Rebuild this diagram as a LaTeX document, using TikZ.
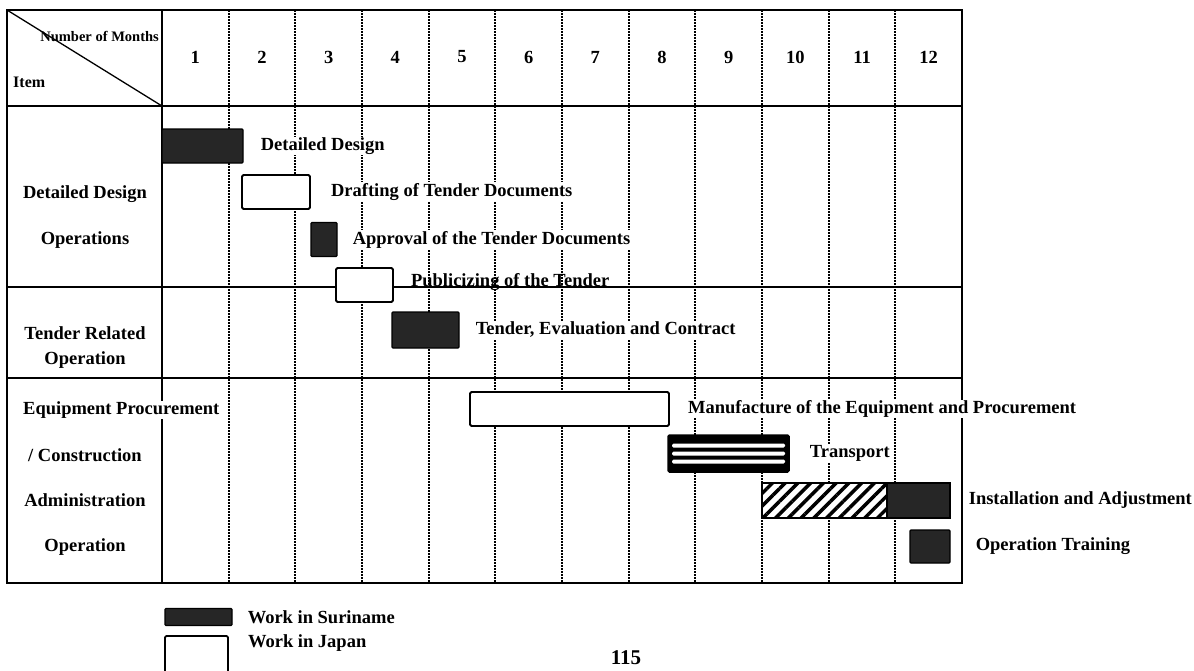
\documentclass[tikz,border=0pt]{standalone}
\usepackage{fontspec}
\setmainfont{Liberation Serif}
\usetikzlibrary{positioning,patterns.meta}

\begin{document}
\begin{tikzpicture}[x=1pt, y=-1pt,
    lbl/.style={font=\fontsize{18.5}{21}\selectfont\bfseries, inner sep=1pt, fill=white},
    itm/.style={font=\fontsize{18.5}{21}\selectfont\bfseries, inner sep=1pt},
    frame/.style={line width=2.4pt},
    rowline/.style={line width=1.3pt},
    monthline/.style={line width=2pt, dash pattern=on 1.5pt off 1.5pt},
    sbar/.style={rectangle, draw, line width=1.2pt, fill=black!85, rounded corners=1pt, minimum height=34pt, inner sep=0pt},
    jbar/.style={rectangle, draw, line width=1.8pt, fill=white, rounded corners=1.5pt, minimum height=34pt, inner sep=0pt},
    hbar/.style={rectangle, draw, line width=1.2pt, inner sep=0pt, minimum height=35pt, preaction={fill=white},
        pattern={Lines[angle=45, distance=9pt, line width=3.5pt]}},
    tbar/.style={rectangle, draw, line width=1.5pt, fill=black, rounded corners=1.5pt, minimum height=37pt, inner sep=0pt,
        path picture={
            \foreach \a/\b in {10/6, 2/-2, -6/-10}
                \fill[white] ([xshift=4pt, yshift=\a pt]path picture bounding box.west)
                    rectangle ([xshift=-4pt, yshift=\b pt]path picture bounding box.east);
        }}
]
\clip (0,0) rectangle (1194,670);

% month columns
\foreach \k in {1,...,11}
    \draw[monthline] ({162+66.667*\k},10) -- ({162+66.667*\k},583);

% table frame
\draw[frame] (7,10) rectangle (962,583);
\draw[frame] (162,10) -- (162,583);
\draw[rowline] (7,106) -- (962,106);
\draw[rowline] (7,287) -- (962,287);
\draw[rowline] (7,378) -- (962,378);
\draw[rowline] (7,10) -- (162,106);

% header
\node[font=\fontsize{14.5}{16}\selectfont\bfseries, inner sep=1pt, anchor=east] (months) at (160,36) {Number of Months};
\node[font=\fontsize{16}{18}\selectfont\bfseries, inner sep=1pt, anchor=west] (item) at (12,82) {Item};
\foreach \k in {1,...,12}
    \node[itm] (m\k) at ({162+66.667*(\k-0.5)},57) {\k};

% items
\node[itm] (ddo) at (85,194) {Detailed Design};
\node[itm] (ops) at (85,240) {Operations};
\node[itm] (tro) at (85,333) {Tender Related};
\node[itm] (tro2) at (85,360) {Operation};
\node[lbl, anchor=west] (eqp) at (22,410) {Equipment Procurement};
\node[itm] (cons) at (85,455) {/ Construction};
\node[itm] (adm) at (85,500) {Administration};
\node[itm] (opr) at (85,547) {Operation};

% bars
\node[sbar, minimum width=81pt] (dd) at (202.5,146) {};
\node[jbar, minimum width=68pt] (draft) at (276,192) {};
\node[sbar, minimum width=26pt] (appr) at (324,239.5) {};
\node[jbar, minimum width=57pt] (pub) at (364.5,285) {};
\node[sbar, minimum width=67pt, minimum height=36pt] (tender) at (425.5,330) {};
\node[jbar, minimum width=199pt] (manu) at (569.5,409) {};
\node[tbar, minimum width=121pt] (trans) at (728.5,453.5) {};
\node[hbar, minimum width=125pt] (inst) at (824.5,500.5) {};
\node[sbar, minimum width=63pt, minimum height=35pt, rounded corners=0pt] (instb) at (918.5,500.5) {};
\node[sbar, minimum width=40pt, minimum height=33pt] (train) at (930,546.5) {};

\node[lbl, right=16pt of dd] (ddl) {Detailed Design};
\node[lbl, right=19pt of draft] (draftl) {Drafting of Tender Documents};
\node[lbl, right=14pt of appr] (apprl) {Approval of the Tender Documents};
\node[itm, right=16pt of pub, yshift=3pt] (publ) {Publicizing of the Tender};
\node[lbl, right=15pt of tender] (tenderl) {Tender, Evaluation and Contract};
\node[lbl, right=17pt of manu] (manul) {Manufacture of the Equipment and Procurement};
\node[lbl, right=19pt of trans] (transl) {Transport};
\node[lbl, right=17pt of instb] (instl) {Installation and Adjustment};
\node[lbl, right=24pt of train] (trainl) {Operation Training};

% legend
\node[sbar, minimum width=67pt, minimum height=17pt] (lgs) at (198.5,617) {};
\node[itm, right=14pt of lgs] (lgsl) {Work in Suriname};
\node[jbar, minimum width=63pt, minimum height=42pt, anchor=north] (lgj) at (196.5,635) {};
\node[itm, anchor=west] (lgjl) at ([xshift=18pt, yshift=-8pt]lgj.north east) {Work in Japan};

\node[font=\fontsize{21}{24}\selectfont\bfseries, inner sep=0pt, anchor=north] (page) at (626,650) {115};
\end{tikzpicture}
\end{document}
